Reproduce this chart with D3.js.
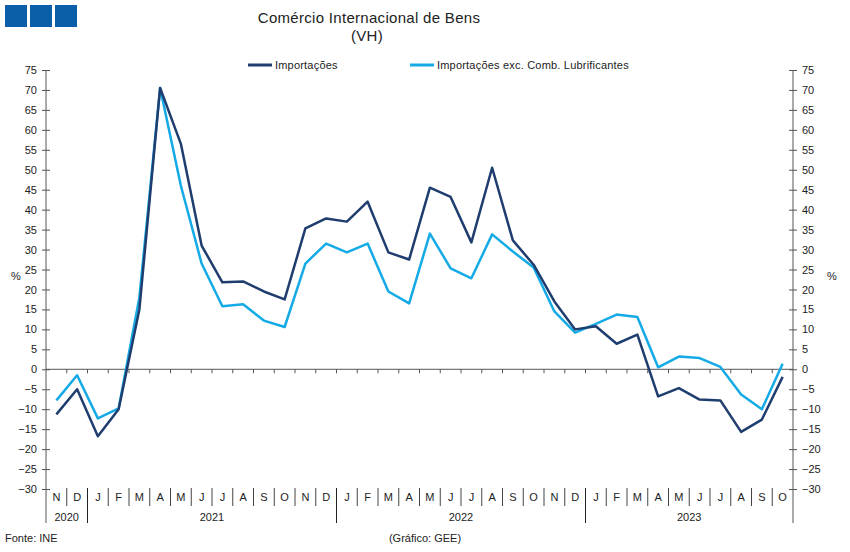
<!DOCTYPE html>
<html>
<head>
<meta charset="utf-8">
<script src="https://cdn.jsdelivr.net/npm/d3@7"></script>
<style>
  body { margin: 0; background: #fff; }
  svg { font-family: "Liberation Sans", Arial, sans-serif; }
  .axis path, .axis line { stroke: #555; }
  .axis text { font-size: 11px; fill: #222; }
</style>
</head>
<body>
<svg id="chart" width="850" height="552"></svg>
<script>
// months Nov 2020 .. Oct 2023
const monthLabels = ['N','D','J','F','M','A','M','J','J','A','S','O','N','D',
                     'J','F','M','A','M','J','J','A','S','O','N','D',
                     'J','F','M','A','M','J','J','A','S','O'];
const years = [{label: '2020', start: 0, end: 2}, {label: '2021', start: 2, end: 14},
               {label: '2022', start: 14, end: 26}, {label: '2023', start: 26, end: 36}];
const importacoes = [-11.3, -5, -16.8, -10, 15, 70.5, 56.5, 31, 21.8, 22, 19.5, 17.5,
                     35.3, 37.8, 37, 42, 29.3, 27.5, 45.5, 43.2, 31.8, 50.5, 32.3, 26.2,
                     17, 10, 10.8, 6.4, 8.7, -6.8, -4.7, -7.6, -7.8, -15.7, -12.6, -1.9];
const importacoesExc = [-7.8, -1.5, -12.3, -9.8, 18, 70.5, 46, 26.5, 15.8, 16.3, 12.2, 10.6,
                        26.5, 31.5, 29.3, 31.5, 19.5, 16.5, 34, 25.3, 22.8, 33.8, 29.5, 25.5,
                        14.5, 9.2, 11.4, 13.7, 13.1, 0.5, 3.2, 2.8, 0.6, -6.3, -10, 1.4];
const yTicks = d3.range(-30, 80, 5);

const svg = d3.select('#chart');
const plotLeft = 46, plotRight = 793, plotTop = 70, plotBottom = 489;
const axisColor = '#555';

const x = d3.scaleBand().domain(d3.range(monthLabels.length)).range([plotLeft, plotRight]).padding(0);
const y = d3.scaleLinear().domain([-30, 75]).range([plotBottom, plotTop]);

// logo squares
svg.selectAll('rect.logo').data([0, 1, 2]).enter().append('rect')
    .attr('class', 'logo')
    .attr('x', d => 5 + d * 25).attr('y', 5)
    .attr('width', 22).attr('height', 22)
    .attr('fill', '#0b5ea8');

// titles
svg.append('text').attr('x', 369).attr('y', 23).attr('text-anchor', 'middle')
    .style('font-size', '15px').style('letter-spacing', '0.3px').attr('fill', '#222')
    .text('Comércio Internacional de Bens');
svg.append('text').attr('x', 367).attr('y', 41).attr('text-anchor', 'middle')
    .style('font-size', '15px').style('letter-spacing', '0.3px').attr('fill', '#222').text('(VH)');

// legend
const legend = [{name: 'Importações', color: '#1f3d6e', x: 248},
                {name: 'Importações exc. Comb. Lubrificantes', color: '#14aae6', x: 410}];
legend.forEach(item => {
    svg.append('line').attr('x1', item.x).attr('x2', item.x + 24).attr('y1', 65).attr('y2', 65)
        .attr('stroke', item.color).attr('stroke-width', 3);
    svg.append('text').attr('x', item.x + 27).attr('y', 69)
        .style('font-size', '11px').style('letter-spacing', '0.2px').attr('fill', '#222').text(item.name);
});

// y axes
const yLeft = svg.append('g').attr('class', 'axis').attr('transform', `translate(${plotLeft},0)`)
    .call(d3.axisLeft(y).tickValues(yTicks).tickSize(4).tickPadding(5));
const yRight = svg.append('g').attr('class', 'axis').attr('transform', `translate(${plotRight},0)`)
    .call(d3.axisRight(y).tickValues(yTicks).tickSize(4).tickPadding(5));
yLeft.select('.domain').remove();
yRight.select('.domain').remove();
yLeft.selectAll('.tick line').attr('x1', 4);
yRight.selectAll('.tick line').attr('x1', -4);
[plotLeft, plotRight].forEach(px => {
    svg.append('line').attr('x1', px).attr('x2', px).attr('y1', plotTop).attr('y2', 523)
        .attr('stroke', axisColor);
});

svg.append('text').attr('x', 16).attr('y', 280).attr('text-anchor', 'middle')
    .style('font-size', '11px').attr('fill', '#222').text('%');
svg.append('text').attr('x', 832).attr('y', 280).attr('text-anchor', 'middle')
    .style('font-size', '11px').attr('fill', '#222').text('%');

// zero line with month ticks
svg.append('line').attr('x1', plotLeft).attr('x2', plotRight).attr('y1', y(0)).attr('y2', y(0))
    .attr('stroke', axisColor);
svg.selectAll('line.mtick').data(d3.range(1, monthLabels.length)).enter().append('line')
    .attr('class', 'mtick')
    .attr('x1', d => x(d)).attr('x2', d => x(d))
    .attr('y1', y(0)).attr('y2', y(0) + 4)
    .attr('stroke', axisColor);

// category labels
svg.selectAll('text.month').data(monthLabels).enter().append('text')
    .attr('class', 'month')
    .attr('x', (d, i) => x(i) + x.bandwidth() / 2).attr('y', 501)
    .attr('text-anchor', 'middle').style('font-size', '11px').attr('fill', '#222')
    .text(d => d);
const yearStarts = years.map(yr => yr.start);
svg.selectAll('line.msep').data(d3.range(1, monthLabels.length)).enter().append('line')
    .attr('class', 'msep')
    .attr('x1', d => x(d)).attr('x2', d => x(d))
    .attr('y1', 488).attr('y2', d => yearStarts.includes(d) ? 523 : 506)
    .attr('stroke', d => yearStarts.includes(d) ? '#222' : '#444');
svg.selectAll('text.year').data(years).enter().append('text')
    .attr('class', 'year')
    .attr('x', d => (x(d.start) + (d.end < monthLabels.length ? x(d.end) : plotRight)) / 2)
    .attr('y', 521).attr('text-anchor', 'middle').style('font-size', '11px').attr('fill', '#222')
    .text(d => d.label);

// lines
const line = d3.line().x((d, i) => x(i) + x.bandwidth() / 2).y(d => y(d));
svg.append('path').datum(importacoesExc).attr('d', line)
    .attr('fill', 'none').attr('stroke', '#14aae6').attr('stroke-width', 2.5)
    .attr('stroke-linejoin', 'round');
svg.append('path').datum(importacoes).attr('d', line)
    .attr('fill', 'none').attr('stroke', '#1f3d6e').attr('stroke-width', 2.5)
    .attr('stroke-linejoin', 'round');

// footer
svg.append('text').attr('x', 5).attr('y', 542).style('font-size', '11px').attr('fill', '#222')
    .text('Fonte: INE');
svg.append('text').attr('x', 425).attr('y', 542).attr('text-anchor', 'middle')
    .style('font-size', '11px').attr('fill', '#222').text('(Gráfico: GEE)');
</script>
</body>
</html>
